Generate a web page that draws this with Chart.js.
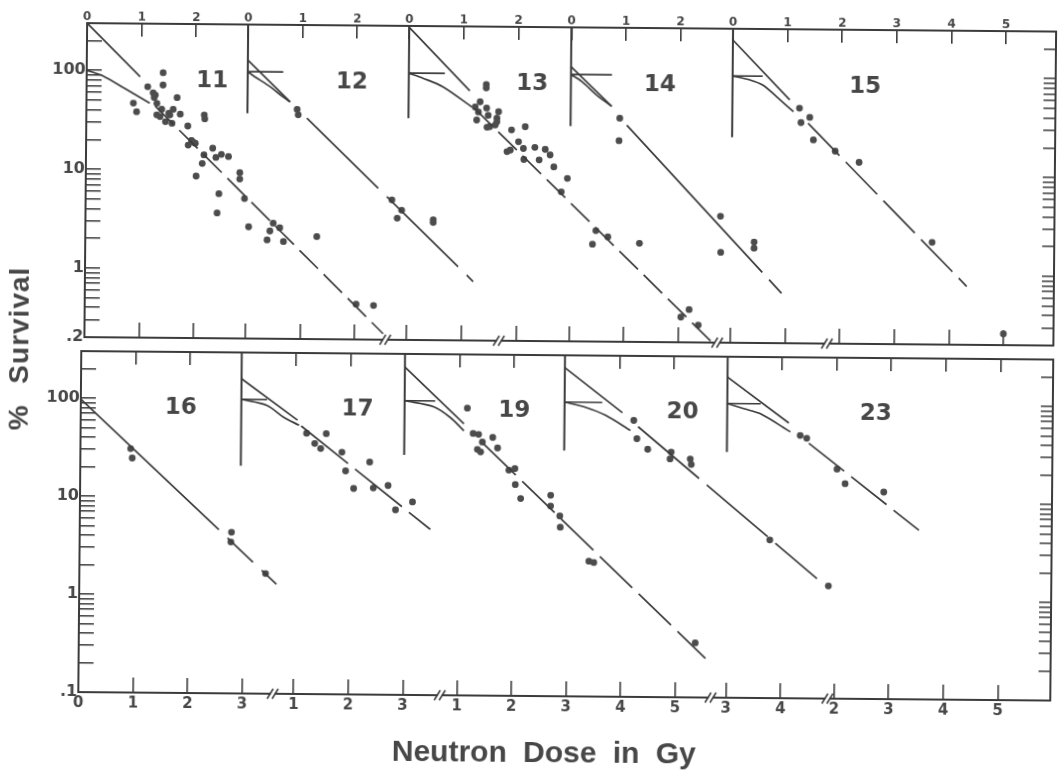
<!DOCTYPE html>
<html>
<head>
<meta charset="utf-8">
<script src="https://cdn.jsdelivr.net/npm/chart.js@4.4.1/dist/chart.umd.min.js"></script>
<style>
  html, body { margin: 0; padding: 0; background: #fff; overflow: hidden; }
  #fig { position: relative; width: 1059px; height: 770px; transform: rotate(0.5deg); transform-origin: 530px 385px; }
  #fig canvas { position: absolute; left: 0; top: 0; }
</style>
</head>
<body>
<div id="fig">
  <canvas id="topChart" width="1059" height="770"></canvas>
  <canvas id="bottomChart" width="1059" height="770"></canvas>
</div>
<script>
// ---- data (dose in Gy on each panel's own axis, % survival) ----
const panelsTop = ['11', '12', '13', '14', '15'];
const panelsBottom = ['16', '17', '19', '20', '23'];

const topTickDoses = [[0, 1, 2], [0, 1, 2], [0, 1, 2], [0, 1, 2], [0, 1, 2, 3, 4, 5]];
const bottomTickDoses = [[0, 1, 2, 3], [1, 2, 3], [1, 2, 3, 4, 5], [3, 4], [2, 3, 4, 5]];
const insetTickDoses = [[1, 2], [1, 2], [1, 2], [1, 2], [1, 2, 3, 4, 5]];
const survLabelsTop = [0.2, 1, 10, 100];
const survLabelsBottom = [0.1, 1, 10, 100];

const dose11 = [1.40, 1.40, 1.12, 1.22, 1.26, 1.24, 0.86, 0.92, 1.29, 1.66, 1.38, 1.59, 1.29, 1.35, 1.51, 1.53,
  1.72, 1.45, 1.57, 1.86, 2.16, 2.17, 1.87, 1.93, 2.00, 1.96, 2.32, 2.16, 2.38, 2.48, 2.61, 2.13, 2.02, 2.82,
  2.82, 2.44, 2.91, 2.41, 2.99, 3.44, 3.56, 3.38, 3.33, 3.63, 4.24, 4.97, 5.29];
const surv11 = [96, 72, 69, 60, 57, 54, 47, 38.5, 47, 54, 41, 41, 36, 34.5, 37.4, 36,
  36.7, 30.7, 29.6, 27.9, 36.2, 33.1, 17.9, 19.9, 18.7, 19.2, 16.7, 14.3, 13.5, 14.5, 13.8, 11.7, 8.7, 9.5,
  8.2, 5.8, 5.2, 3.7, 2.7, 2.95, 2.66, 2.46, 2.0, 1.93, 2.18, 0.455, 0.443];
const dose12 = [0.91, 0.93, 2.66, 2.84, 2.76, 3.42, 3.42];
const surv12 = [42, 37, 5.2, 4.1, 3.4, 3.3, 3.1];
const dose13 = [1.42, 1.42, 1.31, 1.22, 1.28, 1.43, 1.46, 1.65, 1.62, 1.25, 1.49, 1.59, 1.62, 1.44, 1.89, 2.14,
  2.02, 2.11, 1.87, 1.81, 2.32, 2.51, 2.60, 2.12, 2.40, 2.67, 2.92, 2.81, 3.45, 3.67, 3.39, 4.25, 5.02, 5.17, 5.34];
const surv13 = [78, 72, 52, 46, 41, 45, 38, 41.5, 35.6, 34, 29.2, 30.4, 32.8, 28.8, 27.2, 29.4,
  20.7, 17.7, 17.0, 16.4, 18.2, 17.4, 15.3, 13.7, 13.6, 11.6, 8.9, 6.5, 2.65, 2.3, 1.93, 1.99, 0.36, 0.43, 0.30];
const dose14 = [0.90, 0.89, 2.76, 2.77, 3.38, 3.38];
const surv14 = [36.5, 21.6, 3.8, 1.64, 2.1, 1.82];
const dose15 = [1.23, 1.42, 1.26, 1.49, 1.89, 2.33, 3.68, 5.00];
const surv15 = [47.8, 38.7, 34.2, 22.9, 17.7, 13.7, 2.16, 0.26];
const dose16 = [0.92, 0.95, 2.78, 2.77, 3.41];
const surv16 = [30.7, 24.6, 4.4, 3.5, 1.68];
const dose17 = [1.20, 1.56, 1.35, 1.46, 1.85, 2.36, 1.92, 2.07, 2.43, 2.70, 3.15, 2.84];
const surv17 = [45.7, 45.4, 36, 32, 29.5, 23.5, 19, 12.6, 12.8, 13.6, 9.3, 7.7];
const dose19 = [1.15, 1.26, 1.36, 1.43, 1.62, 1.34, 1.40, 1.71, 1.92, 2.03, 2.04, 2.14, 2.69, 2.69, 2.86, 2.87,
  3.40, 3.49, 5.36];
const surv19 = [85, 47, 46, 38.5, 43, 32.4, 30.5, 33.6, 20, 20.8, 14.3, 10.3, 11.2, 8.7, 6.9, 5.3,
  2.4, 2.33, 0.36];
const dose20 = [1.27, 1.33, 1.53, 1.96, 1.94, 2.31, 2.33, 3.78, 4.86];
const surv20 = [66, 43, 33.6, 31.6, 26.9, 27, 23.7, 4.1, 1.41];
const dose23 = [1.34, 1.46, 2.02, 2.17, 2.88];
const surv23 = [48, 45, 21.9, 15.6, 12.9];

// drawn curves: [dose, % survival] pairs
const asym11 = [[0, 300], [0.98, 87]];
const shoulder11 = [[0, 100], [0.3, 88], [0.7, 66], [1.16, 47]];
const tail11 = [[1.26, 44], [5.47, 0.23]];
const asym12 = [[0, 131], [0.78, 50]];
const shoulder12 = [[0, 100], [0.13, 89], [0.41, 71], [0.65, 56], [0.78, 50]];
const tail12 = [[1.09, 34.3], [4.16, 0.79]];
const asym13 = [[0, 290], [1.12, 67]];
const shoulder13 = [[0, 100], [0.26, 89], [0.63, 73], [1.16, 46]];
const tail13 = [[1.2, 45], [5.6, 0.2]];
const asym14 = [[0, 120], [0.75, 48]];
const shoulder14 = [[0, 100], [0.20, 85], [0.47, 62.5], [0.75, 48]];
const tail14 = [[1.03, 31], [3.89, 0.64]];
const asym15 = [[0, 231], [1.05, 58]];
const shoulder15 = [[0, 100], [0.3, 92], [0.56, 81], [0.81, 62], [1.12, 44]];
const tail15 = [[1.39, 33.7], [4.32, 0.78]];
const tail16 = [[0, 97], [3.61, 1.31]];
const asym17 = [[0, 162], [1.03, 62]];
const shoulder17 = [[0, 100], [0.47, 87], [0.78, 66], [1.06, 55]];
const tail17 = [[1.1, 54], [3.48, 4.9]];
const asym19 = [[0, 220], [1.09, 59]];
const shoulder19 = [[0, 100], [0.54, 87], [0.84, 68], [1.09, 50]];
const tail19 = [[1.45, 37], [5.55, 0.25]];
const asym20 = [[0, 224], [1.06, 79]];
const shoulder20 = [[0, 100], [0.38, 89], [0.75, 74], [1.21, 52]];
const tail20 = [[1.35, 57], [4.65, 1.67]];
const asym23 = [[0, 186], [1.13, 64]];
const shoulder23 = [[0, 100], [0.30, 89], [0.61, 79], [1.16, 52]];
const tail23 = [[1.50, 40], [3.53, 5.3]];

// small inset axes: lowest % reached by the vertical, dose reached by the 100% arm
const insetFloorTop = [null, 38, 35, 30, 24];
const insetArmTop = [null, 0.65, 0.66, 0.75, 0.55];
const insetFloorBottom = [null, 21, 28, 32, 32];
const insetArmBottom = [null, 0.47, 0.56, 0.69, 0.61];

// ---- layout & style ----
const INK = '#3b3b3b';
const DOT = '#4c4c4c';
const TEXT = '#474747';
const PX_PER_GY = 54.6;
const topArea = {left: 84, right: 1053, top: 27, bottom: 341};
const bottomArea = {left: 81, right: 1053, top: 355, bottom: 696};
const topOffsets = [0, 2.95, 5.90, 8.87, 11.83];
const bottomOffsets = [0, 2.94, 5.93, 8.86, 11.84];
const topBreaks = [5.51, 7.59, 11.59, 13.60];
const bottomBreaks = [3.56, 6.62, 11.58, 13.72];
const topNameDose = [2.30, 1.91, 2.26, 1.63, 2.43];
const bottomNameDose = [1.83, 2.13, 2.01, 2.16, 2.72];
const topDash = [[26, 8], [100, 12], [26, 8], [200, 10], [45, 9]];
const bottomDash = [[190, 12, 35, 12], [60, 9], [45, 9], [80, 10], [45, 9]];

const topPanels = [
  {dose: dose11, surv: surv11, asym: asym11, shoulder: shoulder11, tail: tail11},
  {dose: dose12, surv: surv12, asym: asym12, shoulder: shoulder12, tail: tail12},
  {dose: dose13, surv: surv13, asym: asym13, shoulder: shoulder13, tail: tail13},
  {dose: dose14, surv: surv14, asym: asym14, shoulder: shoulder14, tail: tail14},
  {dose: dose15, surv: surv15, asym: asym15, shoulder: shoulder15, tail: tail15}
];
const bottomPanels = [
  {dose: dose16, surv: surv16, asym: null, shoulder: null, tail: tail16},
  {dose: dose17, surv: surv17, asym: asym17, shoulder: shoulder17, tail: tail17},
  {dose: dose19, surv: surv19, asym: asym19, shoulder: shoulder19, tail: tail19},
  {dose: dose20, surv: surv20, asym: asym20, shoulder: shoulder20, tail: tail20},
  {dose: dose23, surv: surv23, asym: asym23, shoulder: shoulder23, tail: tail23}
];

function buildDatasets(panels, offsets, floors, arms, yMax, dashes) {
  const sets = [];
  panels.forEach((p, i) => {
    const off = offsets[i];
    const at = ([d, s]) => ({x: off + d, y: s});
    const line = (pts, extra) => Object.assign({
      data: pts.map(at), showLine: true, pointRadius: 0, borderColor: INK, borderWidth: 1.7, fill: false
    }, extra || {});
    if (floors[i] !== null) {
      sets.push(line([[0, yMax], [0, floors[i]]], {borderWidth: 2}));
      sets.push(line([[0, 100], [arms[i], 100]], {borderWidth: 1.6}));
    }
    if (p.asym) sets.push(line(p.asym));
    if (p.shoulder) sets.push(line(p.shoulder, {tension: 0.3}));
    sets.push(line(p.tail, {borderDash: dashes[i]}));
    sets.push({
      data: p.dose.map((d, k) => ({x: off + d, y: p.surv[k]})),
      showLine: false, pointRadius: 3.4, pointBackgroundColor: DOT, pointBorderWidth: 0
    });
  });
  return sets;
}

function tickList(groups, offsets) {
  const out = [];
  groups.forEach((g, i) => g.forEach(d => out.push({value: offsets[i] + d, label: String(d)})));
  return out;
}

function logTicks(min, max) {
  const out = [];
  for (let e = -1; e <= 2; e++) {
    for (let m = 1; m <= 9; m++) {
      const v = +(m * Math.pow(10, e)).toPrecision(3);
      if (v >= min - 1e-9 && v <= max + 1e-9) out.push(v);
    }
  }
  return out;
}

const fmtSurv = v => (v < 1 ? String(v).replace(/^0/, '') : String(v));

function xAxis(position, max, ticks, showLabels, size, tickLen, pad, fontSize) {
  return {
    type: 'linear', position, min: 0, max,
    afterBuildTicks: s => { s.ticks = ticks.map(t => ({value: t.value})); },
    afterFit: s => { s.height = size; },
    ticks: {
      display: showLabels, autoSkip: false, maxRotation: 0, minRotation: 0, padding: pad, color: TEXT,
      font: {family: '"DejaVu Sans", sans-serif', weight: 'bold', size: fontSize},
      callback: (v, i) => ticks[i].label
    },
    grid: {drawOnChartArea: false, drawTicks: true, tickLength: tickLen, color: INK, lineWidth: 1.6},
    border: {display: true, color: INK, width: 2}
  };
}

function yAxis(position, min, max, labels, size, tickLen, showLabels) {
  const vals = logTicks(min, max);
  return {
    type: 'logarithmic', position, min, max,
    afterBuildTicks: s => { s.ticks = vals.map(v => ({value: v})); },
    afterFit: s => { s.width = size; },
    ticks: {
      display: showLabels, autoSkip: false, padding: 16, color: TEXT,
      font: {family: '"DejaVu Sans", sans-serif', weight: 'bold', size: 16},
      callback: v => (labels.some(l => Math.abs(l - v) < 1e-9) ? fmtSurv(v) : '')
    },
    grid: {drawOnChartArea: false, drawTicks: true, tickLength: tickLen, color: INK, lineWidth: 1.5},
    border: {display: true, color: INK, width: 2}
  };
}

function drawText(ctx, t) {
  ctx.save();
  ctx.translate(t.x, t.y);
  if (t.angle) ctx.rotate(t.angle);
  ctx.font = t.font;
  ctx.fillStyle = TEXT;
  if ('letterSpacing' in ctx) ctx.letterSpacing = t.letter || '0px';
  if ('wordSpacing' in ctx) ctx.wordSpacing = t.word || '0px';
  ctx.textAlign = 'center';
  ctx.textBaseline = t.baseline || 'middle';
  ctx.fillText(t.text, 0, 0);
  ctx.restore();
}

const decor = {
  id: 'decor',
  afterDatasetsDraw(chart, args, opts) {
    const {ctx, chartArea} = chart;
    const xs = chart.scales.x, ys = chart.scales.y;
    ctx.save();
    ctx.font = 'bold 23px "DejaVu Sans"';
    ctx.fillStyle = TEXT;
    ctx.textAlign = 'center';
    ctx.textBaseline = 'middle';
    opts.names.forEach((n, i) => {
      ctx.fillText(n, xs.getPixelForValue(opts.offsets[i] + opts.nameDose[i]), ys.getPixelForValue(opts.nameSurv));
    });
    ctx.strokeStyle = INK;
    ctx.lineWidth = 1.5;
    opts.breaks.forEach(b => {
      const x = xs.getPixelForValue(b), y = chartArea.bottom;
      ctx.fillStyle = '#fff';
      ctx.fillRect(x - 2, y - 2, 4, 4);
      [-2.5, 2.5].forEach(dx => {
        ctx.beginPath();
        ctx.moveTo(x + dx - 3, y + 5);
        ctx.lineTo(x + dx + 3, y - 5);
        ctx.stroke();
      });
    });
    ctx.restore();
    (opts.titles || []).forEach(t => drawText(ctx, t));
  }
};

function makeChart(id, area, panels, offsets, floors, arms, yMin, dashes, axes, plugOpts) {
  const xMax = (area.right - area.left) / PX_PER_GY;
  return new Chart(document.getElementById(id), {
    type: 'scatter',
    data: {datasets: buildDatasets(panels, offsets, floors, arms, 300, dashes)},
    options: {
      responsive: false, animation: false, events: [],
      layout: {padding: 0},
      plugins: {legend: {display: false}, tooltip: {enabled: false}, decor: plugOpts},
      scales: axes(xMax, yMin)
    },
    plugins: [decor]
  });
}

const topTicks = tickList(topTickDoses, topOffsets);
makeChart('topChart', topArea, topPanels, topOffsets, insetFloorTop, insetArmTop, 0.2, topDash,
  (xMax, yMin) => ({
    x: xAxis('bottom', xMax, topTicks, false, 770 - topArea.bottom, -15, 4, 12),
    xt: xAxis('top', xMax, topTicks, true, topArea.top, -13, 12, 12),
    y: yAxis('left', yMin, 300, survLabelsTop, topArea.left, -15, true),
    y2: yAxis('right', yMin, 300, survLabelsTop, 1059 - topArea.right, -12, false)
  }),
  {
    names: panelsTop, offsets: topOffsets, nameDose: topNameDose, nameSurv: 80, breaks: topBreaks,
    titles: [{text: '% Survival', x: 20, y: 353, angle: -Math.PI / 2,
      font: 'bold 28px "Liberation Sans"', letter: '1px', word: '12px'}]
  });

const bottomTicks = tickList(bottomTickDoses, bottomOffsets);
const insetTicks = tickList(insetTickDoses, bottomOffsets);
makeChart('bottomChart', bottomArea, bottomPanels, bottomOffsets, insetFloorBottom, insetArmBottom, 0.1, bottomDash,
  (xMax, yMin) => ({
    x: xAxis('bottom', xMax, bottomTicks, true, 770 - bottomArea.bottom, -15, 17, 15),
    xt: xAxis('top', xMax, insetTicks, false, bottomArea.top, -13, 4, 12),
    y: yAxis('left', yMin, 300, survLabelsBottom, bottomArea.left, -15, true),
    y2: yAxis('right', yMin, 300, survLabelsBottom, 1059 - bottomArea.right, -12, false)
  }),
  {
    names: panelsBottom, offsets: bottomOffsets, nameDose: bottomNameDose, nameSurv: 81, breaks: bottomBreaks,
    titles: [{text: 'Neutron Dose in Gy', x: 547, y: 762, baseline: 'alphabetic',
      font: 'bold 30px "Liberation Sans"', word: '8px'}]
  });
</script>
</body>
</html>
